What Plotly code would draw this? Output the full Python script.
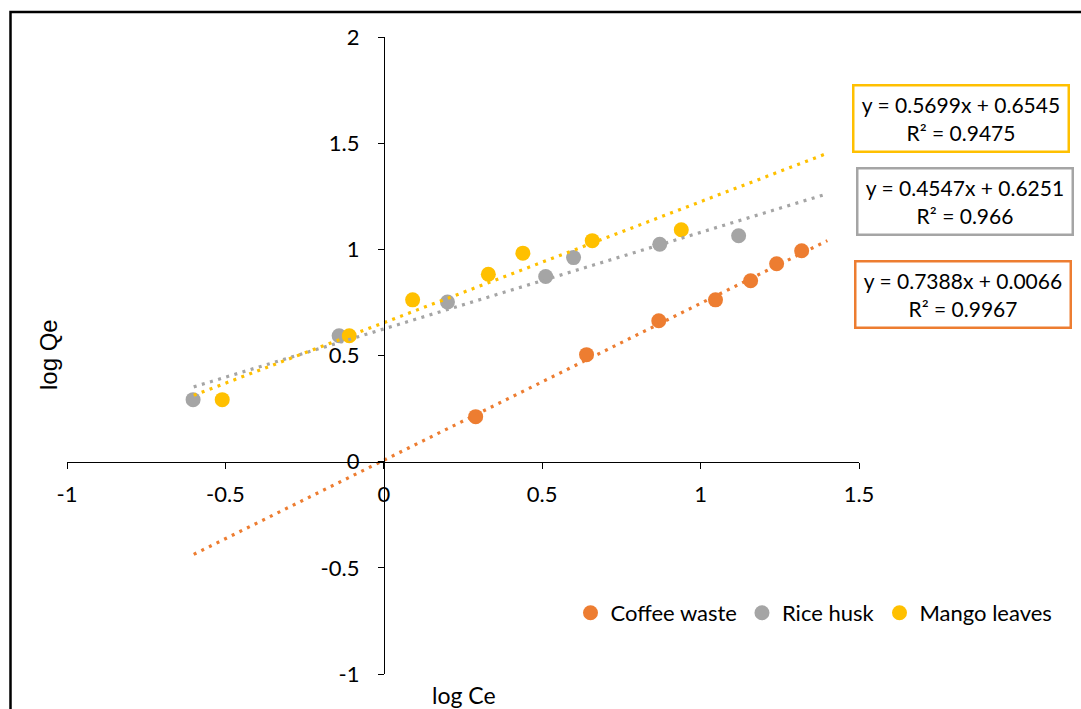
import plotly.graph_objects as go

# ---------------- data ----------------
series_names = ["Coffee waste", "Rice husk", "Mango leaves"]
series_colors = ["#ED7D31", "#A5A5A5", "#FFC000"]

coffee_x = [0.290, 0.640, 0.868, 1.047, 1.158, 1.240, 1.319]
coffee_y = [0.212, 0.504, 0.664, 0.762, 0.852, 0.932, 0.993]

rice_x = [-0.602, -0.141, 0.201, 0.511, 0.599, 0.871, 1.120]
rice_y = [0.292, 0.593, 0.752, 0.872, 0.961, 1.024, 1.064]

mango_x = [-0.510, -0.109, 0.091, 0.330, 0.439, 0.658, 0.939]
mango_y = [0.292, 0.593, 0.762, 0.883, 0.982, 1.041, 1.092]

# linear trendlines (from the equations shown on the chart)
slopes = [0.7388, 0.4547, 0.5699]
intercepts = [0.0066, 0.6251, 0.6545]
r_squared = ["0.9967", "0.966", "0.9475"]
trend_x = [-0.6, 1.4]

x_tickvals = [-1, -0.5, 0, 0.5, 1, 1.5]
x_ticktext = ["-1", "-0.5", "0", "0.5", "1", "1.5"]
y_tickvals = [-1, -0.5, 0, 0.5, 1, 1.5, 2]
y_ticktext = ["-1", "-0.5", "0", "0.5", "1", "1.5", "2"]

xs = [coffee_x, rice_x, mango_x]
ys = [coffee_y, rice_y, mango_y]

# ---------------- layout geometry ----------------
W, H = 1081, 709
ML, MR, MT, MB = 67, 222, 37, 35
PW = W - ML - MR
PH = H - MT - MB


def px_x(px):
    return (px - ML) / PW


def px_y(py):
    return (H - MB - py) / PH


FONT = "Lato, 'Open Sans', sans-serif"

fig = go.Figure()

for name, color, x, y in zip(series_names, series_colors, xs, ys):
    fig.add_trace(go.Scatter(
        x=x, y=y, mode="markers", name=name,
        marker=dict(color=color, size=15, line=dict(width=0)),
    ))

for color, m, b in zip(series_colors, slopes, intercepts):
    fig.add_trace(go.Scatter(
        x=trend_x, y=[m * t + b for t in trend_x], mode="lines",
        line=dict(color=color, width=3.2, dash="3px,5.5px"),
        showlegend=False, hoverinfo="skip",
    ))

# equation boxes
box_centers = [(963.3, 294.7), (965.3, 201.3), (961.3, 118.8)]
annotations = []
for color, m, b, r2, (cx, cy) in zip(series_colors, slopes, intercepts, r_squared, box_centers):
    annotations.append(dict(
        xref="paper", yref="paper", x=px_x(cx), y=px_y(cy),
        xanchor="center", yanchor="middle", showarrow=False,
        text=f"y = {m:.4f}x + {b:.4f}<br>R² = {r2}",
        font=dict(family=FONT, size=21, color="#000000"),
        bordercolor=color, borderwidth=2.5, borderpad=2,
        width=209, height=60, bgcolor="#FFFFFF", align="center",
    ))

# axis titles
annotations.append(dict(
    xref="paper", yref="paper", x=px_x(48), y=px_y(355),
    xanchor="center", yanchor="middle", showarrow=False, textangle=-90,
    text="log Qe", font=dict(family="'Liberation Sans', Arial, sans-serif", size=24, color="#000000"),
))
annotations.append(dict(
    xref="paper", yref="paper", x=px_x(464), y=px_y(695),
    xanchor="center", yanchor="middle", showarrow=False,
    text="log Ce", font=dict(family=FONT, size=23, color="#000000"),
))

fig.update_layout(
    width=W, height=H,
    margin=dict(l=ML, r=MR, t=MT, b=MB),
    paper_bgcolor="#FFFFFF", plot_bgcolor="#FFFFFF",
    font=dict(family=FONT, size=22, color="#000000"),
    showlegend=True,
    legend=dict(
        orientation="h", x=px_x(814), y=px_y(613),
        xanchor="center", yanchor="middle",
        font=dict(family=FONT, size=22, color="#000000"),
        bgcolor="rgba(0,0,0,0)", itemsizing="trace",
        tracegroupgap=0,
    ),
    annotations=annotations,
    shapes=[dict(
        type="rect", xref="paper", yref="paper",
        x0=px_x(10.5), x1=px_x(1120), y0=px_y(12), y1=px_y(740),
        line=dict(color="#000000", width=2.5), layer="below",
    )],
    xaxis=dict(
        range=[-1, 1.5], tickvals=x_tickvals, ticktext=x_ticktext,
        showgrid=False, zeroline=False, showline=True,
        linecolor="#000000", linewidth=1.3,
        ticks="outside", ticklen=6, tickwidth=1.3, tickcolor="#000000",
        anchor="free", position=px_y(462),
        tickfont=dict(family=FONT, size=22, color="#000000"),
        ticklabelstandoff=6,
    ),
    yaxis=dict(
        range=[-1, 2], tickvals=y_tickvals, ticktext=y_ticktext,
        showgrid=False, zeroline=False, showline=True,
        linecolor="#000000", linewidth=1.3,
        ticks="outside", ticklen=6, tickwidth=1.3, tickcolor="#000000",
        anchor="free", position=px_x(384),
        tickfont=dict(family=FONT, size=22, color="#000000"),
        ticklabelstandoff=14,
    ),
)

fig.write_html("out.html")
